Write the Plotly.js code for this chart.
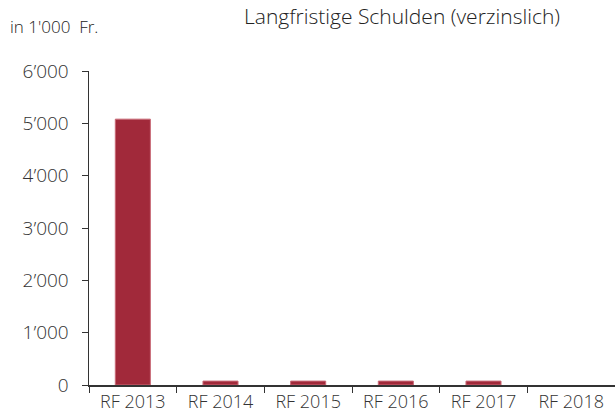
<!DOCTYPE html>
<html><head><meta charset="utf-8">
<script src="https://cdn.plot.ly/plotly-3.0.1.min.js"></script>
<style>html,body{margin:0;padding:0;background:#fff;}#c{width:615px;height:416px;}</style>
</head><body><div id="c"></div>
<script>
const categories = ["RF 2013","RF 2014","RF 2015","RF 2016","RF 2017","RF 2018"];
const values = [5080, 75, 75, 75, 75, 0];
const yTicks = [0,1000,2000,3000,4000,5000,6000];
const yTickLabels = ["0","1’000","2’000","3’000","4’000","5’000","6’000"];
const titleText = "Langfristige Schulden (verzinslich)";
const unitText = "in 1'000  Fr.";

const font = "Open Sans, Noto Sans, sans-serif";
Plotly.newPlot("c", [{
  type: "bar", x: categories, y: values,
  marker: {color: "#A1293A", line: {color: "#C96A77", width: values.map(v => v > 0 ? 1 : 0)}},
  hoverinfo: "none"
}], {
  width: 615, height: 416,
  margin: {l: 89, r: 0, t: 71, b: 31, pad: 0},
  paper_bgcolor: "#fff", plot_bgcolor: "#fff",
  bargap: 0.6,
  showlegend: false,
  font: {family: font, color: "#333"},
  xaxis: {
    type: "category", tickson: "boundaries", ticks: "outside", ticklen: 6, tickcolor: "#333",
    showline: true, linecolor: "#333", linewidth: 1.5, showgrid: false, zeroline: false,
    tickfont: {size: 18, color: "#333", family: font, weight: 300}, ticklabelstandoff: 0, fixedrange: true
  },
  yaxis: {
    range: [0, 6000], tickvals: yTicks, ticktext: yTickLabels,
    ticks: "outside", ticklen: 6, tickcolor: "#333",
    showline: true, linecolor: "#333", linewidth: 1.5, showgrid: false, zeroline: false,
    tickfont: {size: 19, color: "#333", family: font, weight: 300}, ticklabelstandoff: 9, fixedrange: true
  },
  annotations: [
    {text: titleText, xref: "paper", yref: "paper", x: 0.596, y: 1, yshift: 71, xanchor: "center", yanchor: "top",
     showarrow: false, font: {size: 21, color: "#222", family: font, weight: 300}},
    {text: unitText, xref: "paper", yref: "paper", x: 0, xshift: -81, y: 1, yshift: 45, xanchor: "left", yanchor: "middle",
     showarrow: false, font: {size: 17, color: "#222", family: font, weight: 300}}
  ]
}, {staticPlot: true});
</script></body></html>
